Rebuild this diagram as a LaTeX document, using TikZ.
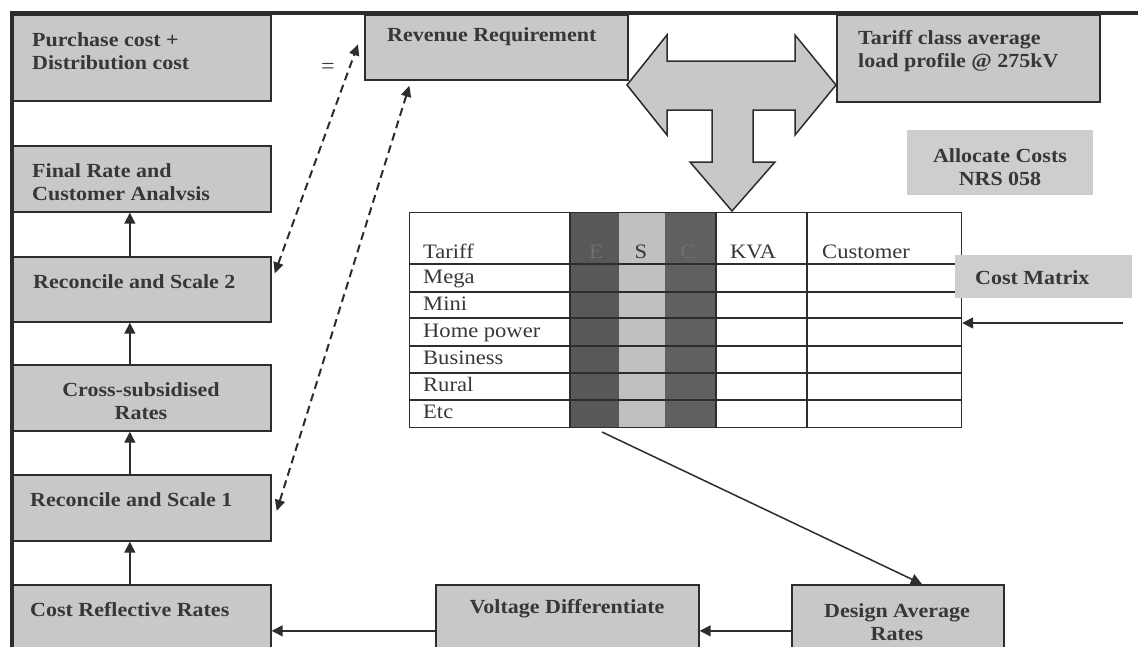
\documentclass[tikz,border=0pt]{standalone}
\usepackage{fontspec}
\setmainfont[FakeStretch=1.1]{Liberation Serif}
\usetikzlibrary{arrows.meta}
\definecolor{boxgray}{RGB}{200,200,200}
\definecolor{edge}{RGB}{45,45,45}
\definecolor{ink}{RGB}{55,55,55}
\definecolor{darkcol}{RGB}{88,88,88}
\definecolor{darkcolb}{RGB}{96,96,96}
\definecolor{lightcol}{RGB}{192,192,192}
\definecolor{labelgray}{RGB}{206,206,206}
\definecolor{faint}{RGB}{112,112,112}
\begin{document}
\begin{tikzpicture}[x=1pt,y=-1pt,
  box/.style={draw=edge, fill=boxgray, line width=1.7pt, inner sep=0pt, anchor=north west},
  tag/.style={fill=labelgray, inner sep=0pt, anchor=north west},
  btxt/.style={text=ink, font=\fontsize{20}{23}\selectfont\bfseries, inner sep=0pt},
  ttxt/.style={text=ink, font=\fontsize{20.5}{23}\selectfont, inner sep=0pt, anchor=west,
    text height=14pt, text depth=4pt},
  arr/.style={draw=edge, line width=1.5pt, -{Triangle[length=11pt,width=11pt]}},
  darr/.style={draw=edge, line width=2pt, dash pattern=on 8pt off 5pt,
    {Triangle[length=11pt,width=10pt]}-{Triangle[length=11pt,width=10pt]}},
  grid/.style={draw=edge, line width=1.2pt},
]
\useasboundingbox (0,0) rectangle (1138,646);
\clip (0,0) rectangle (1138,646);
\fill[white] (0,0) rectangle (1138,646);

% ---- left column of process boxes
\node[box, minimum width=258pt, minimum height=86pt] (purchase) at (12,14) {};
\node[box, minimum width=258pt, minimum height=66pt] (final) at (12,145) {};
\node[box, minimum width=258pt, minimum height=65pt] (rec2) at (12,256) {};
\node[box, minimum width=258pt, minimum height=66pt] (cross) at (12,364) {};
\node[box, minimum width=258pt, minimum height=66pt] (rec1) at (12,474) {};
\node[box, minimum width=258pt, minimum height=80pt] (costrefl) at (12,584) {};

% ---- top row and bottom row
\node[box, minimum width=263pt, minimum height=65pt] (revenue) at (364,14) {};
\node[box, minimum width=263pt, minimum height=87pt] (tariff) at (836,14) {};
\node[tag, minimum width=186pt, minimum height=65pt] (allocate) at (907,130) {};
\node[box, minimum width=263pt, minimum height=80pt] (voltage) at (435,584) {};
\node[box, minimum width=212pt, minimum height=80pt] (design) at (791,584) {};

% ---- outer frame
\draw[edge, line width=3.2pt] (10,13) -- (1140,13);
\draw[edge, line width=3.2pt] (12,12) -- (12,650);

% ---- box texts
\node[btxt, anchor=west, align=left] (purchaseT) at (32,51) {Purchase cost +\\Distribution cost};
\node[text=ink, font=\fontsize{22}{23}\selectfont, inner sep=0pt] (eq) at (328,68) {=};
\node[btxt, anchor=west] (revenueT) at (387,37) {Revenue Requirement};
\node[btxt, anchor=west, align=left] (tariffT) at (858,51) {Tariff class average\\load profile @ 275kV};
\node[btxt, align=center] (allocateT) at (1000,167) {Allocate Costs\\NRS 058};
\node[btxt, anchor=west, align=left] (finalT) at (32,182) {Final Rate and\\Customer Analvsis};
\node[btxt, anchor=west] (rec2T) at (33,282) {Reconcile and Scale 2};
\node[btxt, align=center] (crossT) at (141,401) {Cross-subsidised\\Rates};
\node[btxt, anchor=west] (rec1T) at (30,500) {Reconcile and Scale 1};
\node[btxt, anchor=west] (costreflT) at (30,610) {Cost Reflective Rates};
\node[btxt] (voltageT) at (567,609) {Voltage Differentiate};
\node[btxt, align=center] (designT) at (897,622) {Design Average\\Rates};

% ---- T-shaped double arrow feeding the cost matrix
\draw[edge, fill=boxgray, line width=1.5pt, line join=miter]
  (627,85) -- (667,35) -- (667,61) -- (795,61) -- (795,35) -- (836,85)
  -- (795,135) -- (795,110) -- (753,110) -- (753,162) -- (775,162)
  -- (732,211) -- (690,162) -- (712,162) -- (712,110) -- (667,110)
  -- (667,135) -- cycle;

% ---- cost matrix table
\fill[darkcol] (570,212) rectangle (619,427);
\fill[lightcol] (619,212) rectangle (665,427);
\fill[darkcolb] (665,212) rectangle (716,427);
\node[grid, anchor=north west, inner sep=0pt, minimum width=552pt, minimum height=215pt] (costtab) at (409,212) {};
\foreach \yy in {264,292,318,346,373,400}
  \draw[grid] (409,\yy) -- (961,\yy);
\foreach \xx in {570,716,807}
  \draw[grid] (\xx,212) -- (\xx,427);
\node[ttxt] (hTariff) at (423,253) {Tariff};
\node[ttxt, text=faint, anchor=center] (hE) at (596,253) {E};
\node[ttxt, anchor=center] (hS) at (641,253) {S};
\node[ttxt, text=faint, anchor=center] (hC) at (688,253) {C};
\node[ttxt] (hKVA) at (730,253) {KVA};
\node[ttxt] (hCust) at (822,253) {Customer};
\node[ttxt] (rMega) at (423,278) {Mega};
\node[ttxt] (rMini) at (423,305) {Mini};
\node[ttxt] (rHome) at (423,332) {Home power};
\node[ttxt] (rBus) at (423,359.5) {Business};
\node[ttxt] (rRural) at (423,386.5) {Rural};
\node[ttxt] (rEtc) at (423,413.5) {Etc};

\node[tag, minimum width=177pt, minimum height=43pt] (costmatrix) at (955,255) {};
\node[btxt, anchor=west] (costmatrixT) at (975,278) {Cost Matrix};

% ---- solid connectors
\draw[arr] ([xshift=-12pt]costrefl.north) -- ([xshift=-12pt]rec1.south);
\draw[arr] ([xshift=-12pt]rec1.north) -- ([xshift=-12pt]cross.south);
\draw[arr] ([xshift=-12pt]cross.north) -- ([xshift=-12pt]rec2.south);
\draw[arr] ([xshift=-12pt]rec2.north) -- ([xshift=-12pt]final.south);
\draw[arr] ([yshift=-6pt]design.west) -- ([yshift=-6pt]voltage.east);
\draw[arr] ([yshift=-6pt]voltage.west) -- ([yshift=-6pt]costrefl.east);
\coordinate (tabout) at (602,432);
\draw[arr] (tabout) -- ([xshift=24pt]design.north);
\coordinate (feed) at (1123,323);
\draw[arr] (feed) -- (costtab.east |- feed);

% ---- dashed reconciliation links
\draw[darr] ([shift={(3pt,16pt)}]rec2.east) -- ([shift={(-6pt,3pt)}]revenue.west);
\draw[darr] ([shift={(-87pt,-5pt)}]revenue.south) -- ([shift={(5pt,-3pt)}]rec1.east);
\end{tikzpicture}
\end{document}
